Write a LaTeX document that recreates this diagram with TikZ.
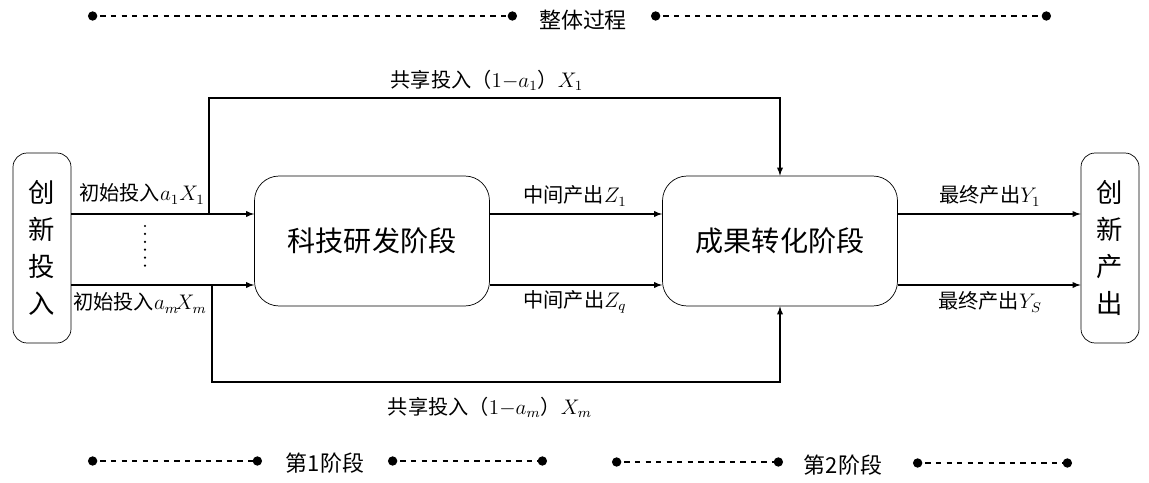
\documentclass[tikz,border=0pt]{standalone}
\usepackage{amsmath}
\usepackage{fontspec}
\newfontfamily\cjk{Noto Sans CJK SC}
\usetikzlibrary{arrows}

\begin{document}
\begin{tikzpicture}[x=0.02cm,y=-0.02cm,
	side/.style={draw,rounded corners=8pt,minimum width=1.16cm,minimum height=3.8cm,align=center,font=\cjk\fontsize{15}{21}\selectfont},
	stage/.style={draw,rounded corners=14pt,minimum width=4.7cm,minimum height=2.6cm,font=\cjk\fontsize{16}{18}\selectfont},
	lab/.style={font=\cjk\fontsize{11.5}{13}\selectfont,inner sep=1pt},
	flow/.style={-latex,line width=0.6pt},
	span/.style={dashed,*-*,line width=0.6pt},
	title/.style={font=\cjk\fontsize{12.5}{14}\selectfont}]
	\useasboundingbox (0,0) rectangle (1149,483);
	\node[side] (in) at (42,248) {创\\新\\投\\入};
	\node[side] (out) at (1110,248) {创\\新\\产\\出};
	\node[stage] (rd) at (372,241) {科技研发阶段};
	\node[stage] (tr) at (780,241) {成果转化阶段};
	% inputs
	\coordinate (a1) at (71,214);
	\coordinate (am) at (71,285);
	\draw[flow] (a1) -- (rd.west |- a1);
	\draw[flow] (am) -- (rd.west |- am);
	\node[lab] (la1) at (142,194) {初始投入$a_1X_1$};
	\node[lab] (lam) at (140,303) {初始投入$a_m\!X_m$};
	\coordinate (d1) at (145,226);
	\coordinate (d2) at (145,266);
	\draw[line width=1.4pt,line cap=round,dash pattern=on 0pt off 4.5pt] (d1) -- (d2);
	% shared inputs
	\coordinate (s1) at (209,214);
	\coordinate (sm) at (212,285);
	\draw[flow] (s1) |- (780,98) -- (tr.north);
	\draw[flow] (sm) |- (780,382) -- (tr.south);
	\node[lab] (ls1) at (487,80) {共享投入（$1{-}a_1$）$X_1$};
	\node[lab] (lsm) at (490,407) {共享投入（$1{-}a_m$）$X_m$};
	% intermediate
	\draw[flow] (rd.east |- a1) -- (tr.west |- a1);
	\draw[flow] (rd.east |- am) -- (tr.west |- am);
	\node[lab] (lz1) at (575,196) {中间产出$Z_1$};
	\node[lab] (lzq) at (575,302) {中间产出$Z_q$};
	% outputs
	\draw[flow] (tr.east |- a1) -- (out.west |- a1);
	\draw[flow] (tr.east |- am) -- (out.west |- am);
	\node[lab] (ly1) at (990,196) {最终产出$Y_1$};
	\node[lab] (lys) at (990,302) {最终产出$Y_S$};
	% stages
	\node[title] (all) at (583,20) {整体过程};
	\draw[span] (88,16) -- (517,16);
	\draw[span] (651,16) -- (1051,16);
	\node[title] (st1) at (325,463) {第1阶段};
	\draw[span] (88,461) -- (262,461);
	\draw[span] (388,461) -- (547,461);
	\node[title] (st2) at (843,465) {第2阶段};
	\draw[span] (612,462) -- (783,462);
	\draw[span] (913,463) -- (1072,463);
\end{tikzpicture}
\end{document}
